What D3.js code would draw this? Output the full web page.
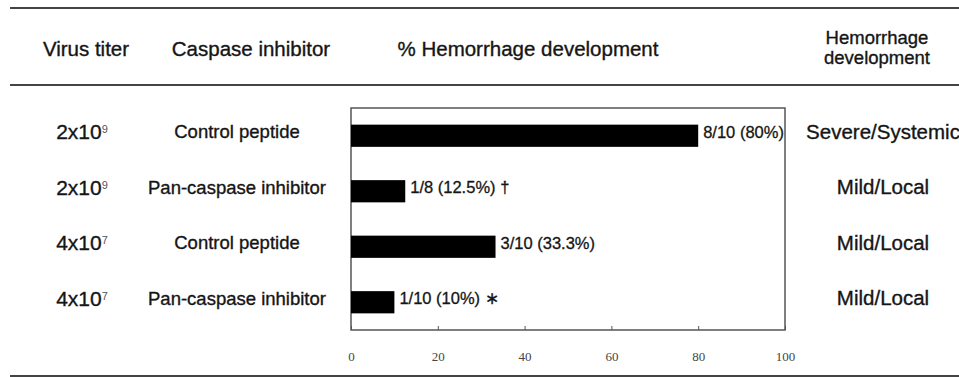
<!DOCTYPE html>
<html lang="en">
<head>
  <meta charset="UTF-8">
  <title>Hemorrhage development</title>
  <script src="https://d3js.org/d3.v7.min.js"></script>
  <style>
    body {
      margin: 0;
      background: #ffffff;
      font-family: "Liberation Sans", Arial, sans-serif;
    }
    svg {
      background-color: #ffffff;
      display: block;
    }
    .hdr {
      font-size: 20.5px;
      fill: #151515;
      stroke: #151515;
      stroke-width: 0.35;
      text-anchor: middle;
    }
    .cell {
      fill: #151515;
      stroke: #151515;
      stroke-width: 0.35;
      text-anchor: middle;
    }
    .bar-label {
      font-size: 16.5px;
      fill: #151515;
      stroke: #151515;
      stroke-width: 0.3;
    }
    .axis text {
      font-family: "Liberation Serif", serif;
      font-size: 13px;
      fill: #444;
    }
    .axis path,
    .axis line {
      stroke: #555;
    }
  </style>
</head>
<body>
  <svg width="959" height="377"></svg>

  <script>
    const width = 959;
    const height = 377;

    // Data
    const titerBase = ["2x10", "2x10", "4x10", "4x10"];
    const titerExp = ["9", "9", "7", "7"];
    const inhibitors = ["Control peptide", "Pan-caspase inhibitor", "Control peptide", "Pan-caspase inhibitor"];
    const percents = [80, 12.5, 33.3, 10];
    const barLabels = ["8/10 (80%)", "1/8 (12.5%)", "3/10 (33.3%)", "1/10 (10%)"];
    const marks = ["", " \u2020", "", "  \u2217"];
    const severity = ["Severe/Systemic", "Mild/Local", "Mild/Local", "Mild/Local"];
    const xTicks = [0, 20, 40, 60, 80, 100];

    const plot = { left: 351, right: 785, top: 108, bottom: 330 };

    const svg = d3.select("svg")
      .attr("width", width)
      .attr("height", height);

    // Horizontal rules of the table
    [8, 85, 376].forEach(y => {
      svg.append("line")
        .attr("x1", 10)
        .attr("x2", width)
        .attr("y1", y)
        .attr("y2", y)
        .attr("stroke", "#444")
        .attr("stroke-width", 2);
    });

    // Header row
    svg.append("text").attr("class", "hdr").attr("x", 86).attr("y", 49).attr("dy", "0.35em").text("Virus titer");
    svg.append("text").attr("class", "hdr").attr("x", 251).attr("y", 49).attr("dy", "0.35em").text("Caspase inhibitor");
    svg.append("text").attr("class", "hdr").attr("x", 528).attr("y", 49).attr("dy", "0.35em").text("% Hemorrhage development");
    svg.append("text").attr("class", "hdr").attr("x", 877).attr("y", 38).attr("dy", "0.35em").style("font-size", "18.5px").text("Hemorrhage");
    svg.append("text").attr("class", "hdr").attr("x", 877).attr("y", 58).attr("dy", "0.35em").style("font-size", "18.5px").text("development");

    // Scales
    const xScale = d3.scaleLinear()
      .domain([0, 100])
      .range([plot.left, plot.right]);

    const yScale = d3.scaleBand()
      .domain(d3.range(percents.length))
      .range([plot.top, plot.bottom])
      .paddingInner(0.6)
      .paddingOuter(0.3);

    const rowY = i => yScale(i) + yScale.bandwidth() / 2 - 4;

    // Plot frame
    svg.append("rect")
      .attr("x", plot.left)
      .attr("y", plot.top)
      .attr("width", plot.right - plot.left)
      .attr("height", plot.bottom - plot.top)
      .attr("fill", "none")
      .attr("stroke", "#555")
      .attr("stroke-width", 1.5);

    // Bars
    svg.selectAll(".bar")
      .data(percents)
      .join("rect")
      .attr("class", "bar")
      .attr("x", xScale(0))
      .attr("y", (d, i) => yScale(i))
      .attr("width", d => xScale(d) - xScale(0))
      .attr("height", yScale.bandwidth())
      .attr("fill", "#000");

    // Bar value labels
    svg.selectAll(".bar-label")
      .data(percents)
      .join("text")
      .attr("class", "bar-label")
      .attr("x", d => xScale(d) + 5)
      .attr("y", (d, i) => rowY(i))
      .attr("dy", "0.35em")
      .text((d, i) => barLabels[i] + marks[i]);

    // X axis with inward ticks
    svg.append("g")
      .attr("class", "axis")
      .attr("transform", `translate(0,${plot.bottom})`)
      .call(d3.axisBottom(xScale).tickValues(xTicks).tickSize(-4).tickPadding(22).tickSizeOuter(0))
      .call(g => g.select(".domain").remove());

    // Virus titer column
    const titer = svg.selectAll(".titer")
      .data(titerBase)
      .join("text")
      .attr("class", "cell titer")
      .attr("x", 82)
      .attr("y", (d, i) => rowY(i))
      .attr("dy", "0.35em")
      .style("font-size", "21px");
    titer.append("tspan").text(d => d);
    titer.append("tspan")
      .attr("dy", "-0.55em")
      .style("font-size", "11px")
      .style("stroke-width", 0)
      .style("fill", "#555")
      .text((d, i) => titerExp[i]);

    // Caspase inhibitor column
    svg.selectAll(".inhib")
      .data(inhibitors)
      .join("text")
      .attr("class", "cell inhib")
      .attr("x", 237)
      .attr("y", (d, i) => rowY(i))
      .attr("dy", "0.35em")
      .style("font-size", "18.5px")
      .text(d => d);

    // Severity column
    svg.selectAll(".sev")
      .data(severity)
      .join("text")
      .attr("class", "cell sev")
      .attr("x", 883)
      .attr("y", (d, i) => rowY(i))
      .attr("dy", "0.35em")
      .style("font-size", "20.5px")
      .text(d => d);
  </script>
</body>
</html>
